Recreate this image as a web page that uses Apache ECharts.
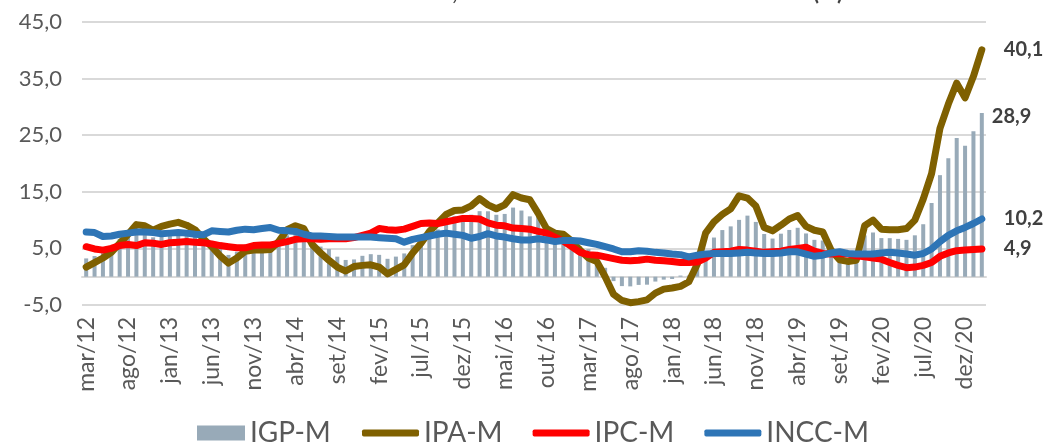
<!DOCTYPE html>
<html>
<head>
<meta charset="utf-8">
<title>IGP-M e componentes</title>
<script src="https://cdn.jsdelivr.net/npm/echarts@6/dist/echarts.min.js"></script>
<style>
  html, body { margin: 0; padding: 0; background: #fff; }
  #myChart { width: 1050px; height: 442px; }
</style>
</head>
<body>
<div id="myChart"></div>
<script>
// meses (mar/12 ... fev/21)
var mesesAbrev = ['jan', 'fev', 'mar', 'abr', 'mai', 'jun', 'jul', 'ago', 'set', 'out', 'nov', 'dez']
var meses = []
for (var a = 2012; a <= 2021; a++) {
  for (var m = 0; m < 12; m++) {
    if (a === 2012 && m < 2) continue
    if (a === 2021 && m > 1) break
    meses.push(mesesAbrev[m] + '/' + String(a).slice(2))
  }
}

// variação acumulada em 12 meses (%)
var igpm = [
  3.23, 3.65, 4.26, 5.14, 6.67, 8.04, 8.07, 7.52, 6.96, 7.82,
  7.91, 8.27, 8.06, 7.30, 6.22, 6.31, 5.18, 3.85, 4.40, 5.27, 5.22, 5.51,
  5.63, 5.68, 7.31, 7.98, 7.84, 6.24, 5.32, 4.88, 3.54, 2.96, 3.05, 3.69,
  3.98, 3.86, 3.16, 3.55, 4.11, 5.58, 6.97, 7.55, 8.35, 10.09, 10.69, 10.54,
  10.95, 11.58, 11.56, 10.94, 11.09, 12.21, 11.69, 10.66, 10.66, 8.78, 7.22, 7.17,
  6.65, 5.38, 4.86, 3.37, 1.57, -0.78, -1.66, -1.71, -1.45, -1.41, -0.86, -0.52,
  -0.41, 0.20, 0.20, 1.89, 4.26, 6.92, 8.24, 8.89, 10.04, 10.79, 9.68, 7.54,
  6.74, 7.60, 8.26, 8.64, 7.64, 6.51, 6.39, 4.95, 3.37, 3.15, 4.12, 7.30,
  7.81, 6.82, 6.81, 6.68, 6.51, 7.31, 9.27, 13.02, 17.94, 20.93, 24.52, 23.14,
  25.71, 28.94
]
var ipam = [
  1.7, 2.5, 3.3, 4.3, 5.9, 7.5, 9.2, 9.0, 8.2, 8.9,
  9.3, 9.6, 9.1, 8.3, 6.7, 5.3, 3.7, 2.4, 3.3, 4.5, 4.7, 4.7,
  4.8, 6.2, 8.3, 9.0, 8.5, 5.7, 4.2, 2.9, 1.7, 1.0, 1.8, 2.0,
  2.1, 1.7, 0.5, 1.3, 2.1, 4.2, 5.9, 8.0, 9.5, 11.0, 11.7, 11.8,
  12.5, 13.8, 12.7, 12.0, 12.7, 14.5, 13.9, 13.6, 11.2, 8.5, 7.7, 7.5,
  6.3, 4.7, 3.3, 2.7, 0.0, -3.1, -4.2, -4.6, -4.4, -4.1, -2.9, -2.2,
  -2.0, -1.7, -0.9, 2.2, 7.7, 9.7, 11.0, 12.0, 14.3, 13.9, 12.5, 8.7,
  8.1, 9.1, 10.2, 10.8, 8.9, 8.2, 7.9, 4.7, 3.0, 2.7, 2.9, 9.0,
  10.0, 8.4, 8.3, 8.3, 8.5, 10.0, 13.7, 18.2, 26.2, 30.5, 34.2, 31.6,
  35.4, 40.1
]
var ipcm = [
  5.3, 4.9, 4.7, 5.0, 5.5, 5.7, 5.5, 6.0, 5.9, 5.7,
  6.0, 6.1, 6.2, 6.1, 6.0, 5.8, 5.5, 5.3, 5.1, 5.1, 5.5, 5.6,
  5.6, 5.9, 6.2, 6.6, 6.7, 6.7, 6.6, 6.7, 6.7, 6.7, 6.9, 7.3,
  7.7, 8.5, 8.3, 8.2, 8.4, 8.9, 9.4, 9.5, 9.4, 9.7, 10.0, 10.3,
  10.3, 10.2, 9.5, 9.1, 9.0, 8.6, 8.5, 8.4, 8.0, 7.7, 7.0, 6.3,
  5.3, 4.3, 3.9, 3.8, 3.5, 3.2, 2.9, 2.8, 2.9, 3.1, 2.9, 2.8,
  2.7, 2.5, 2.5, 2.6, 3.3, 4.3, 4.4, 4.5, 4.8, 4.7, 4.5, 4.3,
  4.4, 4.5, 4.8, 5.0, 5.2, 4.5, 4.1, 4.0, 4.1, 4.0, 3.7, 3.5,
  3.3, 3.1, 2.5, 2.0, 1.6, 1.7, 2.0, 2.5, 3.6, 4.2, 4.6, 4.7,
  4.8, 4.9
]
var inccm = [
  7.9, 7.8, 7.1, 7.2, 7.5, 7.7, 7.9, 7.9, 7.8, 7.6,
  7.7, 7.8, 7.7, 7.5, 7.4, 8.1, 8.0, 7.9, 8.2, 8.4, 8.3, 8.5,
  8.7, 8.2, 8.1, 8.0, 7.5, 7.2, 7.2, 7.1, 7.0, 7.0, 7.0, 7.0,
  7.0, 6.9, 6.8, 6.7, 6.1, 6.6, 6.9, 7.2, 7.5, 7.7, 7.5, 7.3,
  6.8, 7.1, 7.6, 7.2, 7.0, 6.7, 6.5, 6.5, 6.7, 6.5, 6.2, 6.4,
  6.4, 6.3, 6.0, 5.7, 5.3, 4.9, 4.4, 4.4, 4.6, 4.5, 4.3, 4.2,
  4.0, 3.9, 3.5, 3.8, 4.0, 4.1, 4.1, 4.1, 4.2, 4.3, 4.2, 4.1,
  4.1, 4.2, 4.4, 4.4, 4.0, 3.6, 3.8, 4.2, 4.4, 4.1, 4.0, 4.0,
  4.0, 4.2, 4.3, 4.2, 4.0, 3.8, 4.1, 4.9, 6.2, 7.3, 8.1, 8.7,
  9.4, 10.2
]

// número no padrão brasileiro
function fmt (v) {
  return v.toFixed(1).replace('.', ',')
}

var fonte = 'Lato, "Open Sans", sans-serif'
var cinza = '#595959'
var grade = '#d9d9d9'

function serieLinha (nome, dados, cor) {
  return {
    name: nome,
    type: 'line',
    data: dados,
    symbol: 'none',
    lineStyle: { color: cor, width: 7, cap: 'round', join: 'round' },
    itemStyle: { color: cor },
    endLabel: {
      show: true,
      distance: 22,
      formatter: function (p) { return fmt(p.value) },
      fontFamily: fonte,
      fontSize: 20,
      fontWeight: 'bold',
      color: '#404040'
    }
  }
}

var myChart = echarts.init(document.getElementById('myChart'))
myChart.setOption({
  animation: false,
  textStyle: { fontFamily: fonte },
  title: {
    text: 'Taxa acumulada em 12 meses, índices monitorados da FGV e IBRE (%)',
    right: 202,
    top: -23,
    textStyle: { fontFamily: fonte, fontSize: 22, fontWeight: 'bold', color: '#404040' }
  },
  grid: { left: 82, right: 64, top: 22, bottom: 137 },
  legend: [
    {
      data: ['IGP-M'],
      left: 192,
      top: 414,
      icon: 'rect',
      itemWidth: 48,
      itemHeight: 15,
      textStyle: { fontFamily: fonte, fontSize: 28, color: cinza }
    },
    {
      data: ['IPA-M', 'IPC-M', 'INCC-M'],
      left: 357,
      top: 414,
      icon: 'roundRect',
      itemWidth: 57,
      itemHeight: 7,
      itemGap: 30,
      textStyle: { fontFamily: fonte, fontSize: 28, color: cinza }
    }
  ],
  xAxis: [
    {
      type: 'category',
      data: meses,
      boundaryGap: true,
      axisLine: { onZero: true, lineStyle: { color: grade, width: 2 } },
      axisTick: { interval: 4, length: 7, lineStyle: { color: grade, width: 2 } },
      axisLabel: { show: false }
    },
    {
      type: 'category',
      data: meses,
      position: 'bottom',
      axisLine: { show: false, onZero: false },
      axisTick: { show: false },
      axisLabel: {
        interval: 4,
        rotate: 90,
        margin: 12,
        fontFamily: fonte,
        fontSize: 23,
        color: cinza
      }
    }
  ],
  yAxis: {
    type: 'value',
    min: -5,
    max: 45,
    interval: 10,
    axisLine: { show: false },
    axisTick: { show: false },
    axisLabel: {
      formatter: function (v) { return fmt(v) },
      fontFamily: fonte,
      fontSize: 22,
      color: cinza,
      margin: 20
    },
    splitLine: { lineStyle: { color: grade, width: 2 } }
  },
  series: [
    {
      name: 'IGP-M',
      type: 'bar',
      data: igpm.map(function (v, i) {
        if (i !== igpm.length - 1) return v
        return {
          value: v,
          label: {
            show: true,
            position: [12, 4],
            align: 'left',
            verticalAlign: 'middle',
            formatter: function (p) { return fmt(p.value) },
            fontFamily: fonte,
            fontSize: 20,
            fontWeight: 'bold',
            color: '#404040'
          }
        }
      }),
      barWidth: 4,
      itemStyle: { color: '#98aab8' }
    },
    serieLinha('IPA-M', ipam, '#7f6000'),
    serieLinha('IPC-M', ipcm, '#ff0000'),
    serieLinha('INCC-M', inccm, '#2e75b6')
  ]
})
</script>
</body>
</html>
